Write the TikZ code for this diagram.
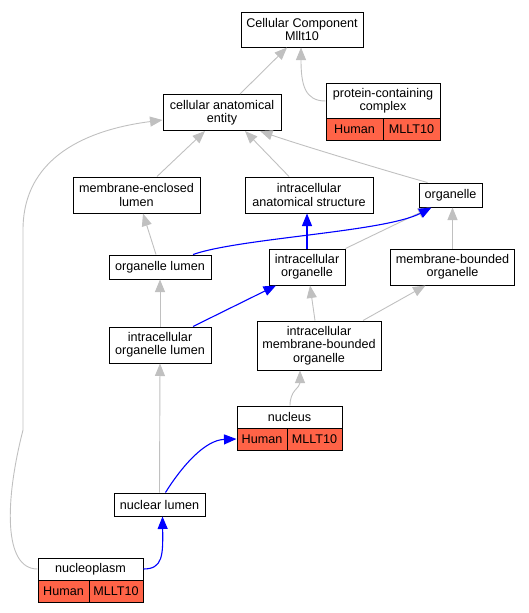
\documentclass[tikz,border=0pt]{standalone}
\usepackage{fontspec}
\setmainfont{Liberation Sans}
\usetikzlibrary{arrows.meta}
\definecolor{edgegray}{HTML}{C0C0C0}
\definecolor{tomato}{HTML}{FF6347}
\tikzset{
  term/.style={draw, fill=white, line width=1pt, inner sep=0pt, align=center,
    font=\fontsize{12.6}{13.3}\selectfont},
  gene/.style={term, fill=tomato},
  isa/.style={draw=edgegray, line width=0.9pt, -{Triangle[length=12.5pt,width=10pt]}},
  partof/.style={draw=blue, line width=1.1pt, -{Triangle[length=12.5pt,width=10pt]}},
}

\begin{document}
\begin{tikzpicture}[x=1pt, y=-1pt]
\useasboundingbox (0,0) rectangle (529,613);
% terms
\node[term, minimum width=122pt, minimum height=35pt] (cc) at (302,29.5) {Cellular Component\\Mllt10};
\node[term, minimum width=114pt, minimum height=35pt] (pcc) at (383,101) {protein-containing\\complex};
\node[gene, minimum width=57pt, minimum height=22pt] (pccH) at (354.5,129.5) {Human};
\node[gene, minimum width=57pt, minimum height=22pt] (pccM) at (411.5,129.5) {MLLT10};
\node[term, minimum width=118pt, minimum height=36pt] (cae) at (222,112.5) {cellular anatomical\\entity};
\node[term, minimum width=127pt, minimum height=36pt] (mel) at (136.5,195) {membrane-enclosed\\lumen};
\node[term, minimum width=128pt, minimum height=36pt] (ias) at (309,195) {intracellular\\anatomical structure};
\node[term, minimum width=63pt, minimum height=24pt] (org) at (450.5,195) {organelle};
\node[term, minimum width=102pt, minimum height=24pt] (ol) at (160,267) {organelle lumen};
\node[term, minimum width=76pt, minimum height=36pt] (io) at (307,267) {intracellular\\organelle};
\node[term, minimum width=124pt, minimum height=36pt] (mbo) at (452.5,267) {membrane-bounded\\organelle};
\node[term, minimum width=102pt, minimum height=36pt] (iol) at (160,345) {intracellular\\organelle lumen};
\node[term, minimum width=124pt, minimum height=49pt] (imbo) at (319,345.5) {intracellular\\membrane-bounded\\organelle};
\node[term, minimum width=105pt, minimum height=22pt] (nuc) at (289.5,417) {nucleus};
\node[gene, minimum width=50pt, minimum height=22pt] (nucH) at (262,439) {Human};
\node[gene, minimum width=55pt, minimum height=22pt] (nucM) at (314.5,439) {MLLT10};
\node[term, minimum width=91pt, minimum height=23pt] (nl) at (159.5,504.5) {nuclear lumen};
\node[term, minimum width=105pt, minimum height=22pt] (np) at (90.5,569) {nucleoplasm};
\node[gene, minimum width=51pt, minimum height=22pt] (npH) at (63.5,591) {Human};
\node[gene, minimum width=54pt, minimum height=22pt] (npM) at (116,591) {MLLT10};
% is_a
\draw[isa] ([xshift=18pt]cae.north) -- ([xshift=-15pt]cc.south);
\draw[isa] (pcc.west) .. controls (305,101) and (301,85) .. ([xshift=-1pt]cc.south);
\draw[isa] ([xshift=20.5pt]mel.north) -- ([xshift=-17pt]cae.south);
\draw[isa] ([xshift=-20pt]ias.north) -- ([xshift=23pt]cae.south);
\draw[isa] ([xshift=-23pt]org.north) .. controls (400,175) and (300,145) .. ([xshift=38pt]cae.south);
\draw[isa] ([xshift=-4pt]ol.north) -- ([xshift=6.5pt]mel.south);
\draw[isa] (io.north east) -- ([xshift=-20pt]org.south);
\draw[isa] (mbo.north) -- ([xshift=2pt]org.south);
\draw[isa] ([xshift=-4pt]imbo.north) -- ([xshift=3pt]io.south);
\draw[isa] ([xshift=44pt]imbo.north) -- ([xshift=-27pt]mbo.south);
\draw[isa] (iol.north) -- (ol.south);
\draw[isa] ([xshift=0.5pt]nuc.north) .. controls (290,390) and (300,388) .. ([xshift=-19pt]imbo.south);
\draw[isa] (nl.north) -- (iol.south);
\draw[isa] (np.west) .. controls (3,569) and (5,500) .. (23,430) -- (23,230)
  .. controls (23,150) and (100,128) .. ([yshift=-7.5pt]cae.west);
% part_of
\draw[partof] ([xshift=33pt]ol.north) .. controls (240,238) and (385,232) .. ([xshift=-19pt]org.south);
\draw[partof] (io.north) -- ([xshift=-2pt]ias.south);
\draw[partof] ([xshift=33pt]iol.north) -- ([xshift=-31pt]io.south);
\draw[partof] ([xshift=6pt]nl.north) .. controls (182,466) and (205,440) .. (nucH.west);
\draw[partof] (np.east) .. controls (163,569) and (163,555) .. ([xshift=3pt]nl.south);
\end{tikzpicture}
\end{document}
